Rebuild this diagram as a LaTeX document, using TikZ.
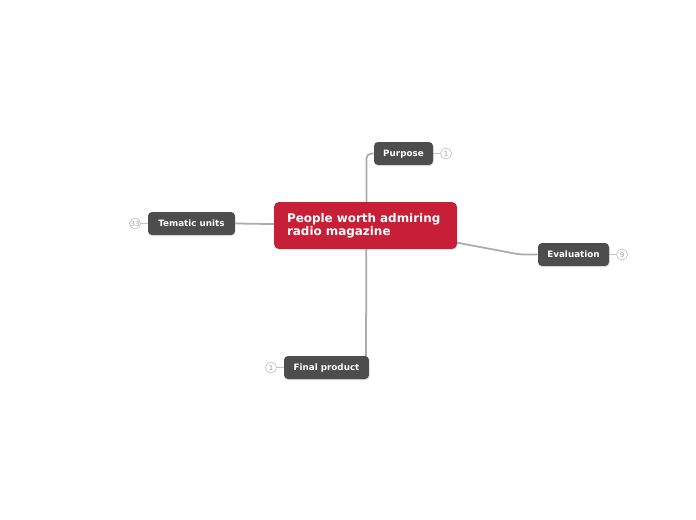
\documentclass[tikz,border=0pt]{standalone}
\usepackage{fontspec}
\setmainfont{DejaVu Sans}
\usepackage{xcolor}
\usetikzlibrary{positioning, calc, shadows, backgrounds}
\definecolor{rootred}{HTML}{C71F37}
\definecolor{topicgray}{HTML}{4D4D4D}
\definecolor{linegray}{HTML}{ABABAB}
\definecolor{countgray}{HTML}{C4C4C4}

\begin{document}
\begin{tikzpicture}[x=0.02cm, y=-0.02cm,
    rootbox/.style={fill=rootred, rounded corners=0.1cm, text=white, font=\fontsize{6.8}{7.5}\selectfont\bfseries,
      align=left, text width=3.14cm, inner xsep=0.26cm, minimum height=0.94cm,
      drop shadow={opacity=0.25, shadow xshift=0.3pt, shadow yshift=-0.6pt}},
    topicbox/.style={fill=topicgray, rounded corners=0.08cm, text=white, font=\fontsize{5}{6}\selectfont\bfseries,
      minimum height=0.46cm, inner xsep=0pt, text height=3.65pt, text depth=0pt,
      drop shadow={opacity=0.3, shadow xshift=0.3pt, shadow yshift=-0.6pt}},
    counter/.style={circle, draw=countgray, fill=white, line width=0.4pt, inner sep=0pt, minimum size=0.22cm,
      text=countgray!80!black, font=\fontsize{4}{4}\selectfont},
    branch/.style={draw=linegray, line width=1pt},
    twig/.style={draw=countgray, line width=0.5pt}]
  \useasboundingbox (0,0) rectangle (696,520);
  % central topic and main branches
  \node[rootbox] (root) at (365.5,225.5) {People worth admiring radio magazine};
  \node[topicbox, minimum width=1.18cm] (purpose) at (403.5,153.5) {Purpose};
  \node[topicbox, minimum width=1.74cm] (tematic) at (191.5,223.5) {Tematic units};
  \node[topicbox, minimum width=1.42cm] (evaluation) at (573.5,254.5) {Evaluation};
  \node[topicbox, minimum width=1.70cm] (final) at (326.5,367.5) {Final product};
  \coordinate (evbend) at (520,254.5);
  \coordinate (finaltop) at (366,357);
  % counters of hidden subtopics
  \node[counter] (npurpose) at (446,153.5) {1};
  \node[counter] (ntematic) at (135,223.5) {33};
  \node[counter] (nevaluation) at (622,254.5) {9};
  \node[counter] (nfinal) at (271,367.5) {1};
  \begin{scope}[on background layer]
    \draw[branch, rounded corners=0.1cm] ([xshift=0.5]root.center) |- (purpose.west);
    \draw[branch] ([xshift=0.5]root.center) -- (finaltop);
    \draw[branch] (root.center) -- (tematic.east);
    \draw[branch, rounded corners=0.1cm] (root.center) -- (evbend) -- (evaluation.west);
    \foreach \a/\b in {purpose/npurpose, tematic/ntematic, evaluation/nevaluation, final/nfinal}
      \draw[twig] (\a) -- (\b);
  \end{scope}
\end{tikzpicture}
\end{document}
